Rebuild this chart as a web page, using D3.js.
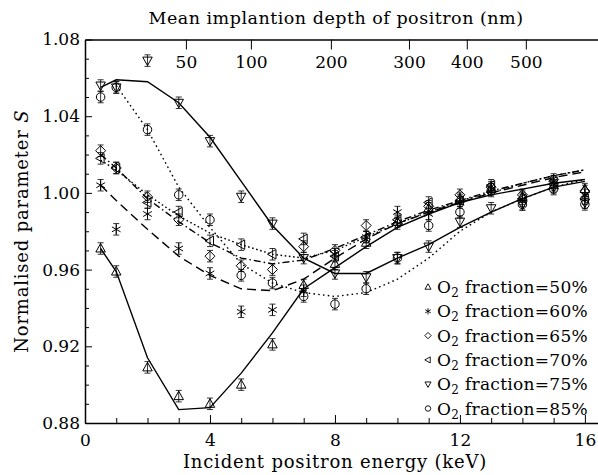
<!DOCTYPE html>
<html>
<head>
<meta charset="utf-8">
<script src="https://cdn.jsdelivr.net/npm/d3@7"></script>
<style>
  html, body { margin: 0; padding: 0; background: #fff; }
  svg { display: block; }
  text { font-family: "DejaVu Serif", "Liberation Serif", serif; fill: #000; }
</style>
</head>
<body>
<svg id="chart" width="598" height="475"></svg>
<script>
// ---------------- data ----------------
const energy = [0.5, 1, 2, 3, 4, 5, 6, 7, 8, 9, 10, 11, 12, 13, 14, 15, 16];

// measured points (normalised S)
const s50 = [0.971, 0.959, 0.909, 0.894, 0.890, 0.900, 0.921, 0.952, 0.963, 0.974, 0.985, 0.992, 0.997, 1.002, 0.998, 1.004, 1.002];
const s60 = [1.004, 0.981, 0.989, 0.971, 0.958, 0.938, 0.939, 0.949, 0.968, 0.977, 0.990, 0.989, 0.995, 1.002, 0.996, 1.006, 0.999];
const s65 = [1.022, 1.013, 0.998, 0.986, 0.967, 0.962, 0.960, 0.972, 0.970, 0.983, 0.984, 0.993, 0.999, 1.003, 0.999, 1.007, 1.001];
const s70 = [1.018, 1.013, 0.995, 0.990, 0.975, 0.973, 0.968, 0.976, 0.967, 0.977, 0.986, 0.995, 0.996, 1.004, 0.997, 1.006, 0.997];
const s75 = [1.056, 1.055, 1.069, 1.047, 1.027, 0.998, 0.984, 0.966, 0.958, 0.956, 0.966, 0.972, 0.985, 0.992, 0.994, 1.003, 0.995];
const s85 = [1.050, 1.055, 1.033, 0.999, 0.986, 0.957, 0.953, 0.946, 0.942, 0.950, 0.966, 0.983, 0.990, 1.001, 0.994, 1.002, 0.994];

// fitted curves
const fit50 = [0.971, 0.959, 0.914, 0.887, 0.888, 0.906, 0.927, 0.950, 0.961, 0.972, 0.982, 0.989, 0.995, 0.999, 1.002, 1.005, 1.007];
const fit60 = [1.004, 0.996, 0.981, 0.967, 0.957, 0.950, 0.949, 0.955, 0.966, 0.976, 0.984, 0.990, 0.995, 1.000, 1.004, 1.008, 1.011];
const fit65 = [1.020, 1.013, 0.997, 0.985, 0.974, 0.966, 0.963, 0.965, 0.971, 0.978, 0.985, 0.991, 0.996, 1.001, 1.005, 1.009, 1.012];
const fit70 = [1.017, 1.012, 0.999, 0.988, 0.979, 0.973, 0.968, 0.966, 0.970, 0.977, 0.984, 0.990, 0.996, 1.000, 1.005, 1.009, 1.012];
const fit75 = [1.055, 1.059, 1.058, 1.047, 1.029, 1.006, 0.983, 0.966, 0.958, 0.958, 0.966, 0.973, 0.982, 0.990, 0.997, 1.003, 1.006];
const fit85 = [null, 1.056, 1.033, 1.003, 0.982, 0.963, 0.953, 0.948, 0.946, 0.948, 0.955, 0.966, 0.980, 0.990, 0.997, 1.003, 1.007];

const errorS = 0.003;

const seriesLabels = ["50%", "60%", "65%", "70%", "75%", "85%"];
const seriesSymbols = ["triUp", "aster", "diamond", "triLeft", "triDown", "circle"];

const xTicksMajor = [0, 4, 8, 12, 16];
const xTicksMinor = [1, 2, 3, 5, 6, 7, 9, 10, 11, 13, 14, 15];
const yTicksMajor = [0.88, 0.92, 0.96, 1.00, 1.04, 1.08];
const yTicksMinor = [0.89, 0.90, 0.91, 0.93, 0.94, 0.95, 0.97, 0.98, 0.99, 1.01, 1.02, 1.03, 1.05, 1.06, 1.07];

const depthTicks = [50, 100, 200, 300, 400, 500];             // nm
const depthTickEnergy = [3.23, 5.31, 7.87, 10.37, 12.22, 14.11]; // keV

const titleTop = "Mean implantion depth of positron (nm)";
const titleX = "Incident positron energy (keV)";
const titleY = "Normalised parameter ";
const titleYItalic = "S";

// ---------------- layout ----------------
const svg = d3.select("#chart");
const L = 85, R = 598, T = 39.5, B = 423;
const x = d3.scaleLinear().domain([0, 16.42]).range([L, R]);
const y = d3.scaleLinear().domain([0.88, 1.08]).range([B, T]);

const fs = 17;

function styleAxis(g) {
  g.selectAll("path.domain").attr("stroke", "#000").attr("stroke-width", 1.5);
  g.selectAll(".tick line").attr("stroke", "#000").attr("stroke-width", 1);
  g.selectAll("text").attr("font-size", fs).attr("font-family", "DejaVu Serif").attr("fill", "#000");
}

const gB = svg.append("g").attr("transform", `translate(0,${B})`)
  .call(d3.axisBottom(x).tickValues(xTicksMajor).tickSizeInner(-8).tickSizeOuter(0).tickPadding(11).tickFormat(d3.format("d")));
styleAxis(gB);
const gBm = svg.append("g").attr("transform", `translate(0,${B})`)
  .call(d3.axisBottom(x).tickValues(xTicksMinor).tickSizeInner(-5).tickSizeOuter(0).tickFormat(""));
styleAxis(gBm);
gBm.select("path.domain").remove();

const gL = svg.append("g").attr("transform", `translate(${L},0)`)
  .call(d3.axisLeft(y).tickValues(yTicksMajor).tickSizeInner(-7).tickSizeOuter(0).tickPadding(5).tickFormat(d3.format(".2f")));
styleAxis(gL);
const gLm = svg.append("g").attr("transform", `translate(${L},0)`)
  .call(d3.axisLeft(y).tickValues(yTicksMinor).tickSizeInner(-4).tickSizeOuter(0).tickFormat(""));
styleAxis(gLm);
gLm.select("path.domain").remove();

// top axis: implantation depth
const gT = svg.append("g").attr("transform", `translate(0,${T})`)
  .call(d3.axisBottom(x).tickValues(depthTickEnergy).tickSizeInner(10).tickSizeOuter(0).tickPadding(6)
    .tickFormat((d, i) => depthTicks[i]));
styleAxis(gT);

// titles
svg.append("text").attr("x", 336).attr("y", 24).attr("text-anchor", "middle")
  .attr("font-size", 17.5).attr("letter-spacing", 0.5).text(titleTop);
svg.append("text").attr("x", 335).attr("y", 468).attr("text-anchor", "middle")
  .attr("font-size", 18).attr("letter-spacing", 0.8).text(titleX);
const yl = svg.append("text").attr("transform", `translate(28,${(T + B) / 2}) rotate(-90)`)
  .attr("text-anchor", "middle").attr("font-size", 18).attr("letter-spacing", 0.8);
yl.append("tspan").text(titleY);
yl.append("tspan").attr("font-style", "italic").text(titleYItalic);

// ---------------- curves ----------------
const fits = [fit50, fit60, fit65, fit70, fit75, fit85];
const dashes = [null, "9,5", "7,3,1.5,3", "1.6,2.6", null, "1.6,3.2"];
const line = d3.line()
  .defined(d => d[1] !== null)
  .x(d => x(d[0])).y(d => y(d[1]));

const plot = svg.append("g");
fits.forEach((f, i) => {
  plot.append("path")
    .datum(energy.map((e, j) => [e, f[j]]))
    .attr("d", line)
    .attr("fill", "none")
    .attr("stroke", "#000")
    .attr("stroke-width", 1.4)
    .attr("stroke-dasharray", dashes[i]);
});

// ---------------- markers ----------------
function symbolPath(type, r) {
  const p = d3.path();
  if (type === "triUp") {
    p.moveTo(0, -r); p.lineTo(r * 0.95, r * 0.7); p.lineTo(-r * 0.95, r * 0.7); p.closePath();
  } else if (type === "triDown") {
    p.moveTo(0, r); p.lineTo(r * 0.95, -r * 0.7); p.lineTo(-r * 0.95, -r * 0.7); p.closePath();
  } else if (type === "triLeft") {
    p.moveTo(-r, 0); p.lineTo(r * 0.7, -r * 0.95); p.lineTo(r * 0.7, r * 0.95); p.closePath();
  } else if (type === "diamond") {
    p.moveTo(0, -r); p.lineTo(r, 0); p.lineTo(0, r); p.lineTo(-r, 0); p.closePath();
  } else if (type === "circle") {
    p.moveTo(r * 0.85, 0); p.arc(0, 0, r * 0.85, 0, 2 * Math.PI);
  } else if (type === "aster") {
    for (let k = 0; k < 3; k++) {
      const a = Math.PI / 2 + k * Math.PI / 3;
      p.moveTo(r * Math.cos(a), r * Math.sin(a));
      p.lineTo(-r * Math.cos(a), -r * Math.sin(a));
    }
  }
  return p.toString();
}

const points = [s50, s60, s65, s70, s75, s85];
points.forEach((s, i) => {
  const g = plot.append("g");
  const data = energy.map((e, j) => ({ e, v: s[j] }));
  g.selectAll("path.err").data(data).join("path")
    .attr("class", "err")
    .attr("d", d => {
      const cx = x(d.e), y1 = y(d.v + errorS), y2 = y(d.v - errorS);
      return `M${cx},${y1}L${cx},${y2}M${cx - 3},${y1}L${cx + 3},${y1}M${cx - 3},${y2}L${cx + 3},${y2}`;
    })
    .attr("stroke", "#000").attr("stroke-width", 0.8).attr("fill", "none");
  g.selectAll("path.sym").data(data).join("path")
    .attr("class", "sym")
    .attr("transform", d => `translate(${x(d.e)},${y(d.v)})`)
    .attr("d", symbolPath(seriesSymbols[i], 5))
    .attr("fill", "none").attr("stroke", "#000").attr("stroke-width", 1);
});

// ---------------- legend ----------------
const lg = svg.append("g").attr("transform", "translate(428,287)");
seriesLabels.forEach((lab, i) => {
  const row = lg.append("g").attr("transform", `translate(0,${i * 24.3})`);
  row.append("path").attr("d", symbolPath(seriesSymbols[i], 3.2))
    .attr("fill", "none").attr("stroke", "#000").attr("stroke-width", 0.9);
  const t = row.append("text").attr("x", 9).attr("y", 6).attr("font-size", fs).attr("letter-spacing", 0.3);
  t.append("tspan").text("O");
  t.append("tspan").attr("font-size", 12).attr("dy", 4).text("2");
  t.append("tspan").attr("dy", -4).text(" fraction=" + lab);
});
</script>
</body>
</html>
